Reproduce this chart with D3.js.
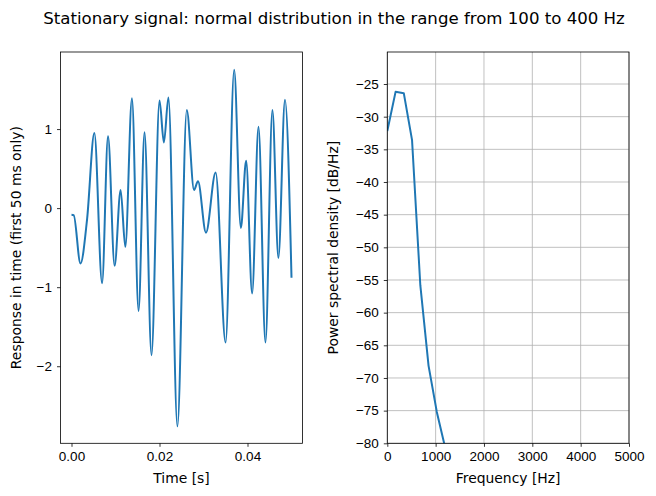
<!DOCTYPE html>
<html>
<head>
<meta charset="utf-8">
<script src="https://cdn.jsdelivr.net/npm/d3@7"></script>
<style>
  body { margin: 0; background: #fff; }
  svg { font-family: "DejaVu Sans", sans-serif; }
  .tick text { font-size: 13.5px; fill: #000; }
  .grid line { stroke: #b0b0b0; stroke-width: 0.8; }
</style>
</head>
<body>
<div id="vis"></div>
<script>
// time signal (first 50 ms), read at the turning points of the curve
var times = [0, 0.0005, 0.00204, 0.00355, 0.0052, 0.00695, 0.0083, 0.0098, 0.01116, 0.01223,
  0.01374, 0.01524, 0.0166, 0.01818, 0.0200, 0.0210, 0.02203, 0.02407, 0.0262, 0.02785,
  0.02875, 0.03056, 0.03276, 0.03502, 0.03697, 0.03849, 0.03969, 0.04105, 0.0425, 0.04408,
  0.04566, 0.04702, 0.04852, 0.0500];
var response = [-0.085, -0.09, -0.70, -0.135, 0.95, -0.95, 0.91, -0.73, 0.23, -0.49,
  1.39, -1.30, 0.96, -1.86, 1.36, 0.83, 1.40, -2.76, 1.24, 0.23,
  0.34, -0.31, 0.45, -1.70, 1.75, -0.25, 0.60, -1.08, 1.03, -1.70,
  1.24, -0.63, 1.37, -0.88];

// power spectral density
var freqs = [0, 171, 341, 512, 683, 853, 1024, 1195];
var psd = [-32.2, -26.2, -26.4, -33.6, -55.8, -68.1, -75.2, -80.6];

var timeTicks = [0, 0.02, 0.04];
var respTicks = [-2, -1, 0, 1];
var freqTicks = [0, 1000, 2000, 3000, 4000, 5000];
var psdTicks = [-80, -75, -70, -65, -60, -55, -50, -45, -40, -35, -30, -25];

var width = 656, height = 496;
var blue = '#1f77b4';
var minus = function(s) { return s.replace('-', '\u2212'); };

var svg = d3.select('#vis')
  .append('svg')
  .attr('width', width)
  .attr('height', height);

svg.append('text')
  .attr('x', 334)
  .attr('y', 24)
  .attr('text-anchor', 'middle')
  .style('font-size', '16.6px')
  .text('Stationary signal: normal distribution in the range from 100 to 400 Hz');

// left panel
var left = { x0: 60.5, x1: 302.5, y0: 52, y1: 443.3 };

var x_time = d3.scaleLinear().domain([-0.0025, 0.0525]).range([left.x0, left.x1]);
var y_resp = d3.scaleLinear().domain([-2.975, 1.975]).range([left.y1, left.y0]);

var gL = svg.append('g');

gL.append('path')
  .datum(times.map(function(t, i) { return [t, response[i]]; }))
  .attr('fill', 'none')
  .attr('stroke', blue)
  .attr('stroke-width', 2)
  .attr('d', d3.line()
    .x(function(d) { return x_time(d[0]); })
    .y(function(d) { return y_resp(d[1]); })
    .curve(d3.curveMonotoneX));

gL.append('g')
  .attr('transform', 'translate(0,' + left.y1 + ')')
  .call(d3.axisBottom(x_time).tickValues(timeTicks).tickFormat(d3.format('.2f'))
    .tickSizeInner(3.5).tickSizeOuter(0).tickPadding(5));

gL.append('g')
  .attr('transform', 'translate(' + left.x0 + ',0)')
  .call(d3.axisLeft(y_resp).tickValues(respTicks).tickFormat(function(d) { return minus(String(d)); })
    .tickSizeInner(3.5).tickSizeOuter(0).tickPadding(5));

gL.append('rect')
  .attr('x', left.x0).attr('y', left.y0)
  .attr('width', left.x1 - left.x0).attr('height', left.y1 - left.y0)
  .attr('fill', 'none').attr('stroke', '#000').attr('stroke-width', 0.8);

gL.append('text')
  .attr('x', (left.x0 + left.x1) / 2)
  .attr('y', 483)
  .attr('text-anchor', 'middle')
  .style('font-size', '13.9px')
  .text('Time [s]');

gL.append('text')
  .attr('transform', 'translate(21,' + (left.y0 + left.y1) / 2 + ')rotate(-90)')
  .attr('text-anchor', 'middle')
  .style('font-size', '13.9px')
  .text('Response in time (first 50 ms only)');

// right panel
var right = { x0: 387.3, x1: 629, y0: 52, y1: 443.3 };

var x_freq = d3.scaleLinear().domain([0, 5000]).range([right.x0, right.x1]);
var y_psd = d3.scaleLinear().domain([-80, -20.1]).range([right.y1, right.y0]);

var gR = svg.append('g');

gR.append('clipPath').attr('id', 'clipR')
  .append('rect')
  .attr('x', right.x0).attr('y', right.y0)
  .attr('width', right.x1 - right.x0).attr('height', right.y1 - right.y0);

gR.append('g')
  .attr('class', 'grid')
  .selectAll('line.v')
  .data(freqTicks)
  .enter()
  .append('line')
  .attr('x1', function(d) { return x_freq(d); })
  .attr('x2', function(d) { return x_freq(d); })
  .attr('y1', right.y0).attr('y2', right.y1);

gR.append('g')
  .attr('class', 'grid')
  .selectAll('line.h')
  .data(psdTicks)
  .enter()
  .append('line')
  .attr('y1', function(d) { return y_psd(d); })
  .attr('y2', function(d) { return y_psd(d); })
  .attr('x1', right.x0).attr('x2', right.x1);

gR.append('path')
  .datum(freqs.map(function(f, i) { return [f, psd[i]]; }))
  .attr('clip-path', 'url(#clipR)')
  .attr('fill', 'none')
  .attr('stroke', blue)
  .attr('stroke-width', 2)
  .attr('stroke-linejoin', 'round')
  .attr('d', d3.line()
    .x(function(d) { return x_freq(d[0]); })
    .y(function(d) { return y_psd(d[1]); }));

gR.append('g')
  .attr('transform', 'translate(0,' + right.y1 + ')')
  .call(d3.axisBottom(x_freq).tickValues(freqTicks).tickFormat(d3.format('d'))
    .tickSizeInner(3.5).tickSizeOuter(0).tickPadding(5));

gR.append('g')
  .attr('transform', 'translate(' + right.x0 + ',0)')
  .call(d3.axisLeft(y_psd).tickValues(psdTicks).tickFormat(function(d) { return minus(String(d)); })
    .tickSizeInner(3.5).tickSizeOuter(0).tickPadding(5));

gR.append('rect')
  .attr('x', right.x0).attr('y', right.y0)
  .attr('width', right.x1 - right.x0).attr('height', right.y1 - right.y0)
  .attr('fill', 'none').attr('stroke', '#000').attr('stroke-width', 0.8);

gR.append('text')
  .attr('x', (right.x0 + right.x1) / 2)
  .attr('y', 483)
  .attr('text-anchor', 'middle')
  .style('font-size', '13.9px')
  .text('Frequency [Hz]');

gR.append('text')
  .attr('transform', 'translate(338,' + (right.y0 + right.y1) / 2 + ')rotate(-90)')
  .attr('text-anchor', 'middle')
  .style('font-size', '13.9px')
  .text('Power spectral density [dB/Hz]');

svg.selectAll('.domain').remove();
svg.selectAll('.tick line').attr('stroke', '#000').attr('stroke-width', 0.8);
</script>
</body>
</html>
